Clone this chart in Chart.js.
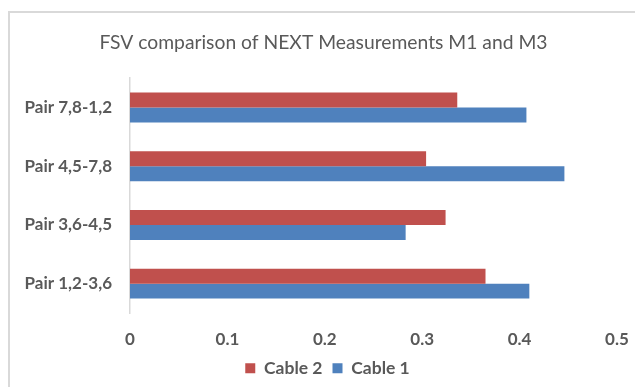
<!DOCTYPE html>
<html>
<head>
<meta charset="utf-8">
<script src="https://cdn.jsdelivr.net/npm/chart.js@4/dist/chart.umd.min.js"></script>
<style>
  html, body { margin: 0; padding: 0; background: #ffffff; }
  #wrap { position: relative; width: 635px; height: 387px; overflow: hidden; }
  #frame { position: absolute; left: 8px; top: 11px; width: 700px; height: 400px;
           border-left: 2px solid #d9d9d9; border-top: 2px solid #d9d9d9; box-sizing: border-box; }
  #chart { position: absolute; left: 0; top: 0; }
</style>
</head>
<body>
<div id="wrap">
  <div id="frame"></div>
  <canvas id="chart" width="635" height="387"></canvas>
</div>
<script>
// Cable pairs, listed top to bottom
const categories = ['Pair 7,8-1,2', 'Pair 4,5-7,8', 'Pair 3,6-4,5', 'Pair 1,2-3,6'];
const cable2 = [0.336, 0.304, 0.324, 0.365];
const cable1 = [0.407, 0.446, 0.283, 0.410];
const xTicks = [0, 0.1, 0.2, 0.3, 0.4, 0.5];

const textColor = '#595959';
const fontFamily = 'Lato, "Open Sans", sans-serif';

// Nudge the title and legend sideways so they sit centred over the plot
const centreBlocks = {
  id: 'centreBlocks',
  afterLayout(chart) {
    if (chart.titleBlock) { chart.titleBlock.left += 15; chart.titleBlock.right += 15; }
    if (chart.legend) { chart.legend.left += 19; chart.legend.right += 19; }
  }
};

new Chart(document.getElementById('chart'), {
  type: 'bar',
  data: {
    labels: categories,
    datasets: [
      { label: 'Cable 2', data: cable2, backgroundColor: '#C0504D', borderWidth: 0 },
      { label: 'Cable 1', data: cable1, backgroundColor: '#4F81BD', borderWidth: 0 }
    ]
  },
  plugins: [centreBlocks],
  options: {
    indexAxis: 'y',
    responsive: false,
    animation: false,
    devicePixelRatio: 1,
    categoryPercentage: 0.51,
    barPercentage: 1.0,
    layout: { padding: { left: 0, right: 18, top: 0, bottom: 0 } },
    plugins: {
      title: {
        display: true,
        text: 'FSV comparison of NEXT Measurements M1 and M3',
        color: textColor,
        font: { family: fontFamily, size: 19.3, weight: 'normal' },
        padding: { top: 31, bottom: 24 }
      },
      legend: {
        position: 'bottom',
        labels: {
          color: textColor,
          font: { family: fontFamily, size: 17.5, weight: 'bold' },
          boxWidth: 10,
          boxHeight: 10,
          padding: 10
        }
      },
      tooltip: { enabled: false }
    },
    scales: {
      x: {
        min: 0,
        max: 0.5,
        afterBuildTicks: (scale) => { scale.ticks = xTicks.map(v => ({ value: v })); },
        afterFit: (scale) => { scale.height = 36.5; scale.paddingRight = 0; },
        grid: { display: false },
        border: { display: false },
        ticks: {
          color: textColor,
          font: { family: fontFamily, size: 17, weight: 'bold' },
          padding: 8,
          callback: (v) => String(v)
        }
      },
      y: {
        grid: { display: false },
        border: { display: true, color: '#d9d9d9', width: 1.5 },
        afterFit: (scale) => { scale.width = 130; },
        ticks: {
          color: textColor,
          font: { family: fontFamily, size: 17, weight: 'bold' },
          padding: 10
        }
      }
    }
  }
});
</script>
</body>
</html>
